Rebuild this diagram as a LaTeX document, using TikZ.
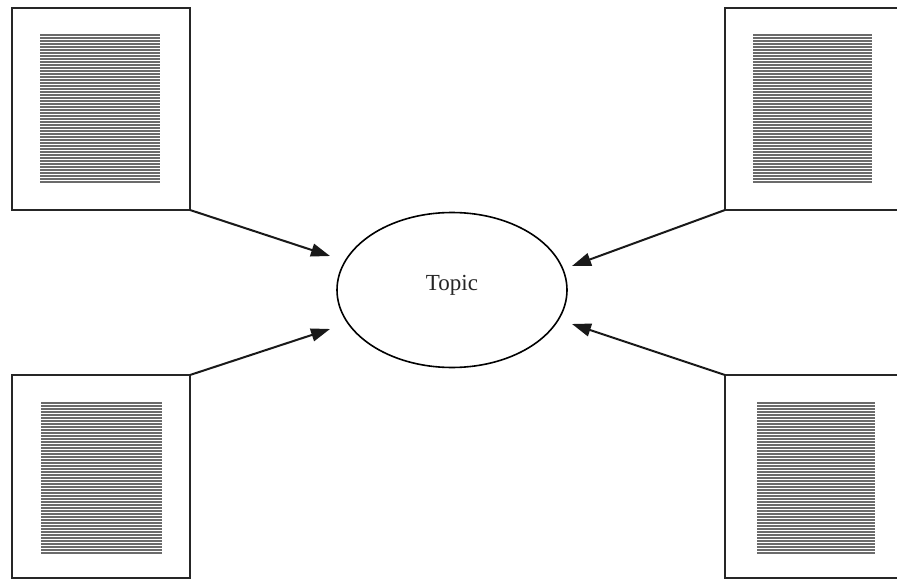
\documentclass[tikz,border=0pt]{standalone}
\usepackage{fontspec}
\setmainfont{Liberation Serif}
\usetikzlibrary{arrows.meta,shapes.geometric}
\newcommand\hatchblock[4]{%
  \pgfmathtruncatemacro\nlines{(#4-#2)/3}%
  \foreach \k in {0,...,\nlines}{%
    \draw[hatchline] (#1,#2+3*\k) -- (#3,#2+3*\k);
  }%
}
\begin{document}
\begin{tikzpicture}[x=1pt,y=-1pt,
  docbox/.style={draw=black!85,line width=2pt,rectangle,inner sep=0pt,outer sep=0pt},
  hatchline/.style={draw=black!58,line width=2.1pt},
  topicshape/.style={draw=black,line width=1.6pt,ellipse,inner sep=0pt,minimum width=230pt,minimum height=155pt},
  feed/.style={draw=black!90,line width=2pt,-{Triangle[length=19pt,width=13pt]}}]
\useasboundingbox (0,0) rectangle (897,580);
\fill[white] (0,0) rectangle (897,580);
\node[docbox,minimum width=178pt,minimum height=202pt] (tl) at (101,109) {};
\node[docbox,minimum width=180pt,minimum height=202pt] (tr) at (815,109) {};
\node[docbox,minimum width=178pt,minimum height=203pt] (bl) at (101,476.5) {};
\node[docbox,minimum width=180pt,minimum height=203pt] (br) at (815,476.5) {};
\hatchblock{40}{35}{160}{183}
\hatchblock{753}{35}{872}{183}
\hatchblock{41}{403}{162}{553}
\hatchblock{757}{403}{875}{553}
\node[topicshape] (topic) at (452,290) {};
\node[anchor=base,text=black!85,font=\fontsize{23}{27}\selectfont] (topiclabel) at (452,290) {Topic};
\coordinate (t1) at (330,256);
\coordinate (t2) at (330,329);
\coordinate (t3) at (572,266);
\coordinate (t4) at (572,324);
\draw[feed] (tl.south east) -- (t1);
\draw[feed] (bl.north east) -- (t2);
\draw[feed] (tr.south west) -- (t3);
\draw[feed] (br.north west) -- (t4);
\end{tikzpicture}
\end{document}
